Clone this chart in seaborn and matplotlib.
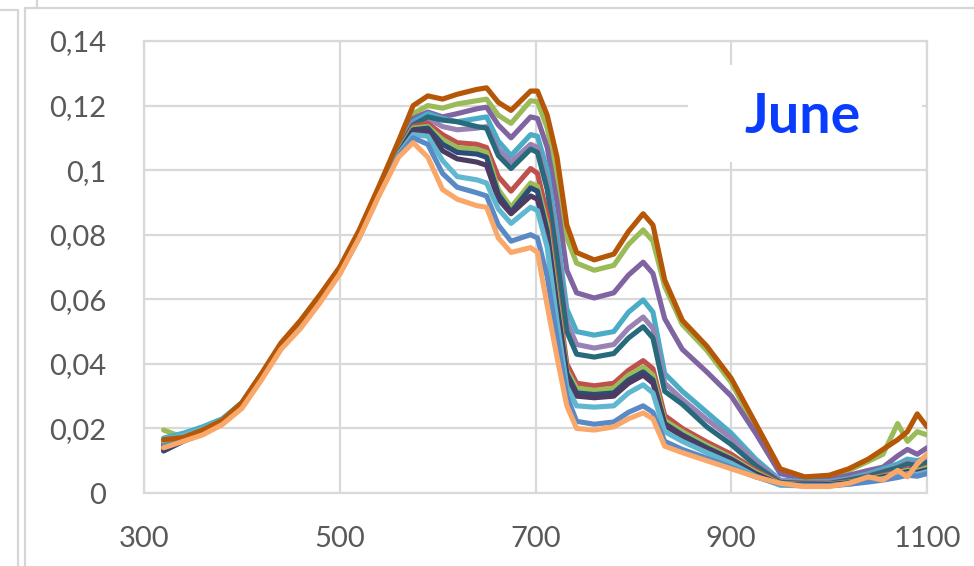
import matplotlib
matplotlib.use("Agg")
import matplotlib.pyplot as plt
from matplotlib.lines import Line2D
from matplotlib.patches import Rectangle
import numpy as np
import pandas as pd
import seaborn as sns

# ---------------- data ----------------
wavelength = [320, 340, 360, 380, 400, 420, 440, 460, 480, 500, 520, 540, 560, 575, 590,
              605, 620, 640, 650, 662, 675, 695, 702, 712, 722, 732, 742, 760, 780, 795,
              810, 820, 832, 850, 875, 900, 925, 950, 975, 1000, 1020, 1040, 1055, 1070,
              1080, 1090, 1100]

s01 = [0.0165, 0.0172, 0.0195, 0.0225, 0.0280, 0.0370, 0.0465, 0.0535, 0.0615, 0.0700,
       0.0815, 0.0950, 0.1090, 0.1200, 0.1230, 0.1220, 0.1235, 0.1250, 0.1255, 0.1210,
       0.1185, 0.1245, 0.1245, 0.1170, 0.1040, 0.0830, 0.0745, 0.0722, 0.0740, 0.0810,
       0.0865, 0.0830, 0.0660, 0.0535, 0.0455, 0.0355, 0.0215, 0.0075, 0.0050, 0.0055,
       0.0075, 0.0105, 0.0135, 0.0165, 0.0190, 0.0245, 0.0205]
s02 = [0.0195, 0.0172, 0.0195, 0.0224, 0.0278, 0.0368, 0.0462, 0.0532, 0.0612, 0.0697,
       0.0812, 0.0946, 0.1082, 0.1175, 0.1200, 0.1192, 0.1205, 0.1215, 0.1220, 0.1170,
       0.1145, 0.1215, 0.1212, 0.1130, 0.0980, 0.0790, 0.0712, 0.0690, 0.0705, 0.0770,
       0.0815, 0.0780, 0.0640, 0.0522, 0.0442, 0.0342, 0.0200, 0.0070, 0.0048, 0.0050,
       0.0070, 0.0098, 0.0120, 0.0215, 0.0160, 0.0190, 0.0180]
s03 = [0.0150, 0.0168, 0.0190, 0.0221, 0.0273, 0.0362, 0.0456, 0.0526, 0.0606, 0.0690,
       0.0805, 0.0940, 0.1072, 0.1160, 0.1180, 0.1165, 0.1175, 0.1190, 0.1195, 0.1140,
       0.1100, 0.1165, 0.1160, 0.1070, 0.0900, 0.0690, 0.0620, 0.0604, 0.0620, 0.0675,
       0.0715, 0.0680, 0.0540, 0.0445, 0.0375, 0.0300, 0.0185, 0.0060, 0.0042, 0.0042,
       0.0055, 0.0070, 0.0080, 0.0115, 0.0135, 0.0120, 0.0140]
s04 = [0.0170, 0.0185, 0.0205, 0.0230, 0.0280, 0.0368, 0.0460, 0.0528, 0.0605, 0.0690,
       0.0805, 0.0940, 0.1068, 0.1150, 0.1175, 0.1160, 0.1150, 0.1160, 0.1165, 0.1090,
       0.1045, 0.1110, 0.1105, 0.1000, 0.0800, 0.0570, 0.0500, 0.0489, 0.0500, 0.0560,
       0.0598, 0.0560, 0.0370, 0.0315, 0.0250, 0.0185, 0.0105, 0.0040, 0.0035, 0.0035,
       0.0045, 0.0060, 0.0075, 0.0090, 0.0105, 0.0100, 0.0110]
s05 = [0.0155, 0.0170, 0.0192, 0.0222, 0.0274, 0.0362, 0.0455, 0.0525, 0.0604, 0.0688,
       0.0802, 0.0937, 0.1065, 0.1145, 0.1160, 0.1135, 0.1125, 0.1130, 0.1135, 0.1065,
       0.1025, 0.1080, 0.1070, 0.0960, 0.0760, 0.0530, 0.0460, 0.0449, 0.0460, 0.0510,
       0.0545, 0.0510, 0.0340, 0.0290, 0.0228, 0.0170, 0.0095, 0.0037, 0.0032, 0.0033,
       0.0042, 0.0055, 0.0068, 0.0080, 0.0095, 0.0090, 0.0100]
s06 = [0.0140, 0.0165, 0.0190, 0.0220, 0.0272, 0.0360, 0.0452, 0.0522, 0.0602, 0.0686,
       0.0800, 0.0935, 0.1062, 0.1140, 0.1165, 0.1155, 0.1150, 0.1135, 0.1130, 0.1045,
       0.1005, 0.1065, 0.1055, 0.0940, 0.0730, 0.0500, 0.0430, 0.0421, 0.0432, 0.0480,
       0.0515, 0.0480, 0.0315, 0.0275, 0.0205, 0.0150, 0.0085, 0.0033, 0.0030, 0.0030,
       0.0040, 0.0052, 0.0065, 0.0078, 0.0090, 0.0085, 0.0095]
s07 = [0.0152, 0.0168, 0.0190, 0.0221, 0.0273, 0.0360, 0.0452, 0.0522, 0.0601, 0.0685,
       0.0798, 0.0932, 0.1058, 0.1135, 0.1145, 0.1110, 0.1085, 0.1080, 0.1070, 0.0980,
       0.0935, 0.1005, 0.0990, 0.0860, 0.0620, 0.0400, 0.0340, 0.0332, 0.0340, 0.0380,
       0.0410, 0.0385, 0.0240, 0.0200, 0.0158, 0.0120, 0.0070, 0.0030, 0.0027, 0.0028,
       0.0035, 0.0045, 0.0055, 0.0065, 0.0075, 0.0070, 0.0080]
s08 = [0.0160, 0.0172, 0.0193, 0.0223, 0.0275, 0.0362, 0.0454, 0.0524, 0.0602, 0.0686,
       0.0798, 0.0932, 0.1056, 0.1130, 0.1135, 0.1095, 0.1070, 0.1065, 0.1055, 0.0940,
       0.0885, 0.0960, 0.0950, 0.0830, 0.0600, 0.0380, 0.0325, 0.0318, 0.0325, 0.0365,
       0.0390, 0.0365, 0.0225, 0.0190, 0.0148, 0.0110, 0.0065, 0.0028, 0.0026, 0.0027,
       0.0033, 0.0043, 0.0052, 0.0062, 0.0070, 0.0068, 0.0078]
s09 = [0.0130, 0.0160, 0.0185, 0.0218, 0.0270, 0.0356, 0.0448, 0.0518, 0.0598, 0.0682,
       0.0795, 0.0928, 0.1052, 0.1125, 0.1130, 0.1080, 0.1055, 0.1050, 0.1040, 0.0925,
       0.0870, 0.0945, 0.0935, 0.0810, 0.0580, 0.0370, 0.0310, 0.0305, 0.0310, 0.0350,
       0.0375, 0.0350, 0.0215, 0.0180, 0.0140, 0.0105, 0.0060, 0.0027, 0.0025, 0.0026,
       0.0032, 0.0040, 0.0050, 0.0058, 0.0066, 0.0064, 0.0072]
s10 = [0.0135, 0.0162, 0.0187, 0.0219, 0.0271, 0.0357, 0.0449, 0.0519, 0.0598, 0.0682,
       0.0795, 0.0928, 0.1050, 0.1120, 0.1120, 0.1060, 0.1035, 0.1025, 0.1015, 0.0910,
       0.0865, 0.0920, 0.0910, 0.0790, 0.0560, 0.0360, 0.0300, 0.0295, 0.0300, 0.0340,
       0.0365, 0.0340, 0.0210, 0.0175, 0.0135, 0.0100, 0.0058, 0.0026, 0.0024, 0.0025,
       0.0030, 0.0038, 0.0048, 0.0056, 0.0064, 0.0062, 0.0070]
s11 = [0.0165, 0.0178, 0.0198, 0.0226, 0.0277, 0.0364, 0.0456, 0.0524, 0.0601, 0.0684,
       0.0796, 0.0930, 0.1050, 0.1110, 0.1105, 0.1030, 0.0980, 0.0970, 0.0960, 0.0880,
       0.0835, 0.0885, 0.0875, 0.0760, 0.0530, 0.0330, 0.0270, 0.0266, 0.0270, 0.0310,
       0.0335, 0.0310, 0.0190, 0.0160, 0.0125, 0.0092, 0.0052, 0.0024, 0.0022, 0.0023,
       0.0028, 0.0036, 0.0045, 0.0052, 0.0060, 0.0058, 0.0066]
s12 = [0.0145, 0.0165, 0.0188, 0.0219, 0.0270, 0.0356, 0.0448, 0.0516, 0.0595, 0.0680,
       0.0792, 0.0925, 0.1045, 0.1100, 0.1080, 0.0990, 0.0947, 0.0930, 0.0920, 0.0830,
       0.0780, 0.0800, 0.0790, 0.0670, 0.0480, 0.0300, 0.0222, 0.0213, 0.0220, 0.0250,
       0.0270, 0.0250, 0.0160, 0.0135, 0.0108, 0.0080, 0.0050, 0.0028, 0.0022, 0.0022,
       0.0027, 0.0034, 0.0040, 0.0048, 0.0055, 0.0052, 0.0060]
s13 = [0.0140, 0.0160, 0.0180, 0.0212, 0.0262, 0.0350, 0.0445, 0.0510, 0.0590, 0.0678,
       0.0790, 0.0920, 0.1040, 0.1085, 0.1040, 0.0940, 0.0910, 0.0890, 0.0885, 0.0790,
       0.0745, 0.0760, 0.0745, 0.0580, 0.0420, 0.0270, 0.0200, 0.0195, 0.0205, 0.0230,
       0.0248, 0.0230, 0.0145, 0.0125, 0.0100, 0.0075, 0.0050, 0.0030, 0.0020, 0.0020,
       0.0030, 0.0050, 0.0040, 0.0070, 0.0050, 0.0090, 0.0120]

series = {"S01": s01, "S02": s02, "S03": s03, "S04": s04, "S05": s05, "S06": s06,
          "S07": s07, "S08": s08, "S09": s09, "S10": s10, "S11": s11, "S12": s12,
          "S13": s13}
colors = {"S01": "#B65708", "S02": "#9BBB59", "S03": "#8064A2", "S04": "#4BACC6",
          "S05": "#9983B5", "S06": "#276A7C", "S07": "#C0504D", "S08": "#9BBB59",
          "S09": "#2C4D75", "S10": "#4D3B62", "S11": "#5FB8CF", "S12": "#5A8AC6",
          "S13": "#F9A86A"}
draw_order = ["S02", "S03", "S04", "S05", "S06", "S07", "S08", "S09", "S10", "S11",
              "S12", "S01", "S13"]

x_ticks = [300, 500, 700, 900, 1100]
y_ticks = [0, 0.02, 0.04, 0.06, 0.08, 0.10, 0.12, 0.14]
y_labels = ["0", "0,02", "0,04", "0,06", "0,08", "0,1", "0,12", "0,14"]
title_text = "June"

df = pd.concat([pd.DataFrame({"wl": wavelength, "val": v, "series": k})
                for k, v in series.items()], ignore_index=True)

# ---------------- figure ----------------
sns.set_theme(style="white")
plt.rcParams["font.family"] = ["Lato", "DejaVu Sans"]

W, H = 974, 566
fig = plt.figure(figsize=(W / 100, H / 100), dpi=100)
fig.patch.set_facecolor("white")
ax = fig.add_axes([144 / W, 73 / H, (927 - 144) / W, (493 - 41) / H])

sns.lineplot(data=df, x="wl", y="val", hue="series", hue_order=draw_order,
             palette=colors, estimator=None, sort=False, legend=False,
             linewidth=3.7, ax=ax, zorder=3)

ax.set_xlim(300, 1100)
ax.set_ylim(0, 0.14)
ax.set_xticks(x_ticks)
ax.set_xticklabels([str(t) for t in x_ticks])
ax.set_yticks(y_ticks)
ax.set_yticklabels(y_labels)
ax.set_xlabel("")
ax.set_ylabel("")
ax.tick_params(axis="both", length=0, labelsize=21, colors="#595959")
ax.tick_params(axis="y", pad=27)
ax.tick_params(axis="x", pad=24)
ax.set_axisbelow(True)
ax.grid(True, color="#D9D9D9", linewidth=1.6)
for sp in ax.spines.values():
    sp.set_color("#D9D9D9")
    sp.set_linewidth(1.6)

# white label box with "June"
x0 = 300 + (688 - 144) / 0.979
x1 = 300 + (922 - 144) / 0.979
y0 = (493 - 162) * 0.0003096
y1 = (493 - 65) * 0.0003096
ax.add_patch(Rectangle((x0, y0), x1 - x0, y1 - y0, facecolor="white",
                       edgecolor="none", zorder=1.5))
ax.text(300 + (803 - 144) / 0.979, (493 - 133) * 0.0003096, title_text,
        ha="center", va="baseline", fontsize=40, fontweight="bold",
        color="#0A3CFF", zorder=4)

# screenshot frame lines
def fline(xs, ys):
    fig.add_artist(Line2D([x / W for x in xs], [1 - y / H for y in ys],
                          color="#D6D6D6", linewidth=1.6, transform=fig.transFigure))

fline([18, 18], [10, 566])
fline([0, 18], [10, 10])
fline([25, 25], [8, 566])
fline([25, 974], [8, 8])
fline([37, 37], [0, 8])

fig.savefig("out.png", dpi=100, facecolor="white")
